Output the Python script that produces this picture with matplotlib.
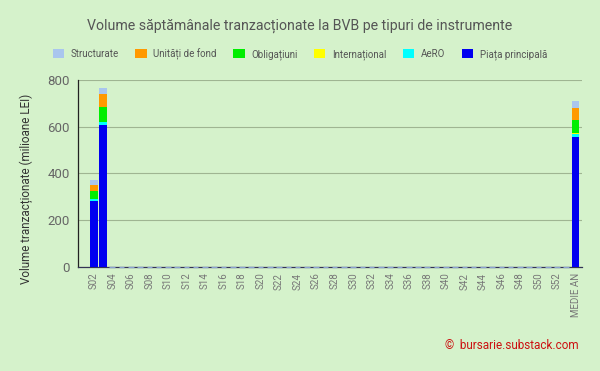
import matplotlib
matplotlib.use("Agg")
import matplotlib.pyplot as plt
import numpy as np

plt.rcParams['font.family'] = ['Roboto', 'DejaVu Sans']

categories = [f"S{i:02d}" for i in range(2, 54)] + ["MEDIE AN"]
n_empty = 50  # weeks S04..S53 have no data yet

piata_principala = [282, 607] + [0] * n_empty + [557]
aero = [8, 14] + [0] * n_empty + [14]
international = [1, 1] + [0] * n_empty + [1]
obligatiuni = [34, 64] + [0] * n_empty + [57]
unitati_fond = [26, 54] + [0] * n_empty + [53]
structurate = [21, 24] + [0] * n_empty + [28]

series = [
    ("Piața principală", piata_principala, "#0000f0"),
    ("AeRO", aero, "#00ffff"),
    ("Internațional", international, "#ffff00"),
    ("Obligațiuni", obligatiuni, "#00ee00"),
    ("Unități de fond", unitati_fond, "#ff9900"),
    ("Structurate", structurate, "#a9c6ee"),
]

bg = "#d5f2cb"
fig = plt.figure(figsize=(6, 3.71), dpi=100, facecolor=bg)
ax = fig.add_axes([0.13, 0.2803, 0.84, 0.5041], facecolor=bg)

x = np.arange(len(categories))
width = 0.86
bottom = np.zeros(len(categories))
handles = {}
for name, vals, col in series:
    v = np.array(vals, dtype=float)
    b = ax.bar(x, v, width, bottom=bottom, color=col, linewidth=0, label=name, zorder=3)
    handles[name] = b
    bottom += v

# zero-value weeks shown as thin dashes on the baseline
zero_mask = bottom == 0
zb = ax.bar(x[zero_mask], bottom[zero_mask], width * 0.7, color="none",
            edgecolor="#8aa2d0", linewidth=1.0, zorder=4)
for r in zb:
    r.set_clip_on(False)

ax.set_ylim(0, 800)
ax.set_yticks([0, 200, 400, 600, 800])
ax.set_xlim(-1.7, len(categories) - 0.3)
ax.set_xticks(x[::2])
ax.set_xticklabels(categories[::2], rotation=90, fontsize=7, color="#777777")
ax.tick_params(axis='y', labelsize=9.5, colors="#666666", length=0, pad=6)
ax.tick_params(axis='x', length=0, pad=4)
ax.grid(axis='y', color="#9fb592", linewidth=0.8, zorder=0)
for s in ["top", "right"]:
    ax.spines[s].set_visible(False)
ax.spines["left"].set_color("#222222")
ax.spines["bottom"].set_color("#333355")
ax.spines["left"].set_linewidth(0.9)
ax.spines["bottom"].set_linewidth(0.9)

fig.text(26 / 600, 1 - 189 / 371, "Volume tranzacționate (milioane LEI)", rotation=90,
         ha="center", va="center", fontsize=8.4, color="#333333")

fig.text(0.5, 0.93, "Volume săptămânale tranzacționate la BVB pe tipuri de instrumente",
         ha="center", va="center", fontsize=10.2, color="#555555")

order = ["Structurate", "Unități de fond", "Obligațiuni", "Internațional", "AeRO", "Piața principală"]
leg = fig.legend([handles[o] for o in order], order, loc="center", bbox_to_anchor=(0.5, 0.855),
                 ncol=6, frameon=False, fontsize=7, handlelength=1.15, handleheight=1.15,
                 columnspacing=1.7, handletextpad=0.7, labelcolor="#555555")

fig.text(0.965, 0.07, "©  bursarie.substack.com", ha="right", va="center",
         fontsize=8.5, color="#cc1111")

fig.savefig("out.png", dpi=100, facecolor=bg)
